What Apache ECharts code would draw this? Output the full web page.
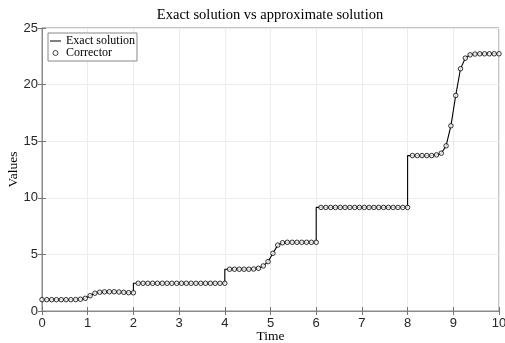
<!DOCTYPE html>
<html><head><meta charset="utf-8">
<script src="https://cdn.jsdelivr.net/npm/echarts@6/dist/echarts.min.js"></script>
<style>html,body{margin:0;padding:0;background:#fff}#c{width:505px;height:343px}</style>
</head><body><div id="c"></div>
<script>
// Time points of the corrector (5 impulse intervals of length 2, step 2/19)
const timeValues = [
  0, 0.105, 0.211, 0.316, 0.421, 0.526, 0.632, 0.737, 0.842, 0.947, 1.053, 1.158, 1.263, 1.368, 1.474, 1.579, 1.684, 1.789, 1.895, 2,
  2.105, 2.211, 2.316, 2.421, 2.526, 2.632, 2.737, 2.842, 2.947, 3.053, 3.158, 3.263, 3.368, 3.474, 3.579, 3.684, 3.789, 3.895, 4,
  4.105, 4.211, 4.316, 4.421, 4.526, 4.632, 4.737, 4.842, 4.947, 5.053, 5.158, 5.263, 5.368, 5.474, 5.579, 5.684, 5.789, 5.895, 6,
  6.105, 6.211, 6.316, 6.421, 6.526, 6.632, 6.737, 6.842, 6.947, 7.053, 7.158, 7.263, 7.368, 7.474, 7.579, 7.684, 7.789, 7.895, 8,
  8.105, 8.211, 8.316, 8.421, 8.526, 8.632, 8.737, 8.842, 8.947, 9.053, 9.158, 9.263, 9.368, 9.474, 9.579, 9.684, 9.789, 9.895, 10
];
// Corrector values
const correctorValues = [
  1.00, 1.00, 1.00, 1.00, 1.00, 1.00, 1.00, 1.01, 1.04, 1.12, 1.35, 1.57, 1.66, 1.69, 1.70, 1.70, 1.68, 1.65, 1.62, 1.61,
  2.45, 2.45, 2.45, 2.45, 2.45, 2.45, 2.45, 2.45, 2.45, 2.45, 2.45, 2.45, 2.45, 2.45, 2.45, 2.45, 2.45, 2.45, 2.45,
  3.69, 3.69, 3.69, 3.69, 3.69, 3.71, 3.77, 3.98, 4.36, 5.10, 5.82, 6.03, 6.07, 6.07, 6.07, 6.07, 6.07, 6.07, 6.07,
  9.15, 9.15, 9.15, 9.15, 9.15, 9.15, 9.15, 9.15, 9.15, 9.15, 9.15, 9.15, 9.15, 9.15, 9.15, 9.15, 9.15, 9.15, 9.15,
  13.73, 13.73, 13.73, 13.73, 13.73, 13.79, 13.94, 14.59, 16.36, 19.04, 21.40, 22.34, 22.63, 22.70, 22.72, 22.72, 22.72, 22.72, 22.72
];
// Impulse times and the value right after each jump (exact solution)
const jumpTimes = [2, 4, 6, 8];
const jumpValues = [2.45, 3.69, 9.15, 13.73];
const xTickLabels = ['0','1','2','3','4','5','6','7','8','9','10'];
const yTickLabels = ['0','5','10','15','20','25'];

const correctorData = timeValues.map((t, i) => [t, correctorValues[i]]);
const exactData = [];
timeValues.forEach((t, i) => {
  exactData.push([t, correctorValues[i]]);
  const j = jumpTimes.indexOf(t);
  if (j >= 0) exactData.push([t, jumpValues[j]]);
});

const serif = "'Liberation Serif','Times New Roman',serif";
const sans = "'Liberation Sans',Arial,sans-serif";
const xMin = Number(xTickLabels[0]), xMax = Number(xTickLabels[xTickLabels.length-1]);
const yMin = Number(yTickLabels[0]), yMax = Number(yTickLabels[yTickLabels.length-1]);
const tickStyle = {show:true, inside:true, length:4, lineStyle:{color:'#777', width:1}};

const chart = echarts.init(document.getElementById('c'), null, {renderer:'canvas'});
chart.setOption({
  backgroundColor:'#fff',
  animation:false,
  title:{
    text:'Exact solution vs approximate solution',
    left:270, top:8, textAlign:'center', padding:0,
    textStyle:{fontFamily:serif, fontSize:14.5, fontWeight:'normal', color:'#000'}
  },
  legend:{
    orient:'vertical', left:48, top:33, padding:[2,2,2,2], itemGap:0,
    itemWidth:11, itemHeight:5, symbolKeepAspect:true,
    borderColor:'#888', borderWidth:1, backgroundColor:'#fff',
    textStyle:{fontFamily:serif, fontSize:12, color:'#000', lineHeight:12},
    data:[
      {name:'Exact solution', icon:'path://M0,0H12V1.1H0Z', itemStyle:{color:'#000'}},
      {name:'Corrector', icon:'circle', itemStyle:{color:'#fff', borderColor:'#000', borderWidth:0.9}}
    ]
  },
  grid:{left:42, top:28, width:457, height:283, containLabel:false, outerBoundsMode:'none',
    show:true, borderColor:'#8a8a8a', borderWidth:1, backgroundColor:'#fff'},
  xAxis:[{
    type:'value', min:xMin, max:xMax, interval:1,
    name:'Time', nameLocation:'middle', nameGap:18, nameMoveOverlap:false,
    nameTextStyle:{fontFamily:serif, fontSize:13.5, color:'#000'},
    axisLine:{show:true, lineStyle:{color:'#8a8a8a'}},
    axisTick:tickStyle,
    axisLabel:{fontFamily:sans, fontSize:13, color:'#262626', margin:6},
    splitLine:{show:true, lineStyle:{color:'#ececec', width:1}}
  },{
    type:'value', min:xMin, max:xMax, interval:1, position:'top',
    axisLine:{show:false}, axisTick:tickStyle, axisLabel:{show:false}, splitLine:{show:false}
  }],
  yAxis:[{
    type:'value', min:yMin, max:yMax, interval:5,
    name:'Values', nameLocation:'middle', nameGap:22, nameMoveOverlap:false,
    nameTextStyle:{fontFamily:serif, fontSize:13.5, color:'#000'},
    axisLine:{show:true, lineStyle:{color:'#8a8a8a'}},
    axisTick:tickStyle,
    axisLabel:{fontFamily:sans, fontSize:13, color:'#262626', margin:4},
    splitLine:{show:true, lineStyle:{color:'#ececec', width:1}}
  },{
    type:'value', min:yMin, max:yMax, interval:5, position:'right',
    axisLine:{show:false}, axisTick:tickStyle, axisLabel:{show:false}, splitLine:{show:false}
  }],
  series:[{
    name:'Exact solution', type:'line', data:exactData,
    symbol:'none', showSymbol:false, z:2,
    lineStyle:{color:'#000', width:1.1}, itemStyle:{color:'#000'}
  },{
    name:'Corrector', type:'scatter', data:correctorData,
    symbol:'circle', symbolSize:4.5, z:3,
    itemStyle:{color:'#fff', borderColor:'#000', borderWidth:1}
  }]
});
</script></body></html>
